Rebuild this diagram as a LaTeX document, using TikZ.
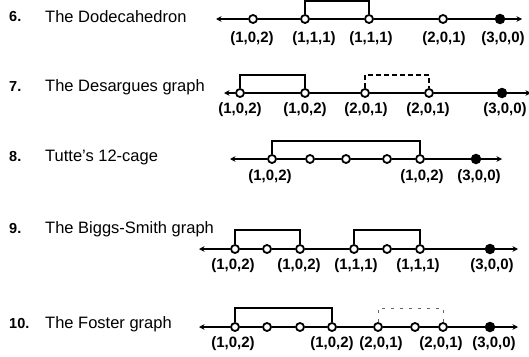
\documentclass[tikz,border=0pt]{standalone}
\usepackage{fontspec}
\setmainfont{Liberation Sans}
\usetikzlibrary{arrows.meta}
\begin{document}
\begin{tikzpicture}[x=1pt,y=-1pt,
  vx/.style={circle,draw=black,fill=white,line width=1.8pt,inner sep=0pt,minimum size=8pt},
  fvx/.style={circle,fill=black,inner sep=0pt,minimum size=10.5pt},
  axis/.style={line width=2.1pt},
  arr/.style={line width=1.9pt,-{Stealth[length=5.5pt,width=5.5pt]}},
  brk/.style={line width=2pt},
  dbrk/.style={line width=1.2pt,dashed,dash pattern=on 5pt off 3pt},
  fbrk/.style={line width=1pt,black!60,dash pattern=on 3pt off 6pt},
  lbl/.style={font=\bfseries\fontsize{15}{15}\selectfont,inner sep=0pt},
  ttl/.style={font=\fontsize{16.5}{16.5}\selectfont,anchor=west,inner sep=0pt},
  num/.style={font=\bfseries\fontsize{14.5}{14.5}\selectfont,anchor=west,inner sep=0pt}]
\useasboundingbox[fill=white] (0,0) rectangle (529,356);

% ---------- Row 6 ----------
\node[num] (n6) at (9,17) {6.};
\node[ttl] (t6) at (45,17) {The Dodecahedron};
\coordinate (a6l) at (216,19);
\coordinate (a6r) at (522,19);
\node[vx] (r6a) at (253,19) {};
\node[vx] (r6b) at (305,19) {};
\node[vx] (r6c) at (369,19) {};
\node[vx] (r6d) at (443,19) {};
\node[fvx] (r6e) at (500,19) {};
\draw[arr] (r6a) -- (a6l);
\draw[axis] (r6a) -- (r6b) (r6b) -- (r6c) (r6c) -- (r6d) (r6d) -- (r6e);
\draw[arr] (r6e) -- (a6r);
\coordinate (k6) at (0,1);
\draw[brk] (r6b.north) -- (r6b.north |- k6) -| (r6c.north);
\node[lbl] (l6a) at (252,39) {(1,0,2)};
\node[lbl] (l6b) at (314,39) {(1,1,1)};
\node[lbl] (l6c) at (371,39) {(1,1,1)};
\node[lbl] (l6d) at (444,39) {(2,0,1)};
\node[lbl] (l6e) at (503,39) {(3,0,0)};

% ---------- Row 7 ----------
\node[num] (n7) at (9,87) {7.};
\node[ttl] (t7) at (45,87) {The Desargues graph};
\coordinate (a7l) at (224,93);
\coordinate (a7r) at (531,93);
\node[vx] (r7a) at (240,93) {};
\node[vx] (r7b) at (305,93) {};
\node[vx] (r7c) at (365,93) {};
\node[vx] (r7d) at (429,93) {};
\node[fvx] (r7e) at (502,93) {};
\draw[arr] (r7a) -- (a7l);
\draw[axis] (r7a) -- (r7b) (r7b) -- (r7c) (r7c) -- (r7d) (r7d) -- (r7e);
\draw[arr] (r7e) -- (a7r);
\coordinate (k7) at (0,75);
\draw[brk] (r7a.north) -- (r7a.north |- k7) -| (r7b.north);
\draw[dbrk] (r7c.north) -- (r7c.north |- k7) -| (r7d.north);
\node[lbl] (l7a) at (240,110) {(1,0,2)};
\node[lbl] (l7b) at (305,110) {(1,0,2)};
\node[lbl] (l7c) at (366,110) {(2,0,1)};
\node[lbl] (l7d) at (428,110) {(2,0,1)};
\node[lbl] (l7e) at (505,110) {(3,0,0)};

% ---------- Row 8 ----------
\node[num] (n8) at (9,157) {8.};
\node[ttl] (t8) at (45,157) {Tutte's 12-cage};
\coordinate (a8l) at (230,159);
\coordinate (a8r) at (502,159);
\node[vx] (r8a) at (272,159) {};
\node[vx] (r8b) at (310,159) {};
\node[vx] (r8c) at (346,159) {};
\node[vx] (r8d) at (387,159) {};
\node[vx] (r8e) at (420,159) {};
\node[fvx] (r8f) at (476,159) {};
\draw[arr] (r8a) -- (a8l);
\draw[axis] (r8a) -- (r8b) (r8b) -- (r8c) (r8c) -- (r8d) (r8d) -- (r8e) (r8e) -- (r8f);
\draw[arr] (r8f) -- (a8r);
\coordinate (k8) at (0,141);
\draw[brk] (r8a.north) -- (r8a.north |- k8) -| (r8e.north);
\node[lbl] (l8a) at (270,177) {(1,0,2)};
\node[lbl] (l8b) at (422,177) {(1,0,2)};
\node[lbl] (l8c) at (479,177) {(3,0,0)};

% ---------- Row 9 ----------
\node[num] (n9) at (9,229) {9.};
\node[ttl] (t9) at (45,229) {The Biggs-Smith graph};
\coordinate (a9l) at (199,249);
\coordinate (a9r) at (518,249);
\node[vx] (r9a) at (235,249) {};
\node[vx] (r9b) at (267,249) {};
\node[vx] (r9c) at (300,249) {};
\node[vx] (r9d) at (354,249) {};
\node[vx] (r9e) at (387,249) {};
\node[vx] (r9f) at (420,249) {};
\node[fvx] (r9g) at (490,249) {};
\draw[arr] (r9a) -- (a9l);
\draw[axis] (r9a) -- (r9b) (r9b) -- (r9c) (r9c) -- (r9d) (r9d) -- (r9e) (r9e) -- (r9f) (r9f) -- (r9g);
\draw[arr] (r9g) -- (a9r);
\coordinate (k9) at (0,230);
\draw[brk] (r9a.north) -- (r9a.north |- k9) -| (r9c.north);
\draw[brk] (r9d.north) -- (r9d.north |- k9) -| (r9f.north);
\node[lbl] (l9a) at (233,266) {(1,0,2)};
\node[lbl] (l9b) at (299,266) {(1,0,2)};
\node[lbl] (l9c) at (356,266) {(1,1,1)};
\node[lbl] (l9d) at (418,266) {(1,1,1)};
\node[lbl] (l9e) at (492,266) {(3,0,0)};

% ---------- Row 10 ----------
\node[num] (n10) at (9,324) {10.};
\node[ttl] (t10) at (45,324) {The Foster graph};
\coordinate (a10l) at (199,327);
\coordinate (a10r) at (518,327);
\node[vx] (r10a) at (235,327) {};
\node[vx] (r10b) at (267,327) {};
\node[vx] (r10c) at (300,327) {};
\node[vx] (r10d) at (332,327) {};
\node[vx] (r10e) at (378,327) {};
\node[vx] (r10f) at (415,327) {};
\node[vx] (r10g) at (443,327) {};
\node[fvx] (r10h) at (490,327) {};
\draw[arr] (r10a) -- (a10l);
\draw[axis] (r10a) -- (r10b) (r10b) -- (r10c) (r10c) -- (r10d) (r10d) -- (r10e) (r10e) -- (r10f) (r10f) -- (r10g) (r10g) -- (r10h);
\draw[arr] (r10h) -- (a10r);
\coordinate (k10) at (0,308);
\draw[brk] (r10a.north) -- (r10a.north |- k10) -| (r10d.north);
\draw[fbrk] (r10e.north) -- (r10e.north |- k10) -| (r10g.north);
\node[lbl] (l10a) at (233,344) {(1,0,2)};
\node[lbl] (l10b) at (332,344) {(1,0,2)};
\node[lbl] (l10c) at (381,344) {(2,0,1)};
\node[lbl] (l10d) at (441,344) {(2,0,1)};
\node[lbl] (l10e) at (494,344) {(3,0,0)};
\end{tikzpicture}
\end{document}
